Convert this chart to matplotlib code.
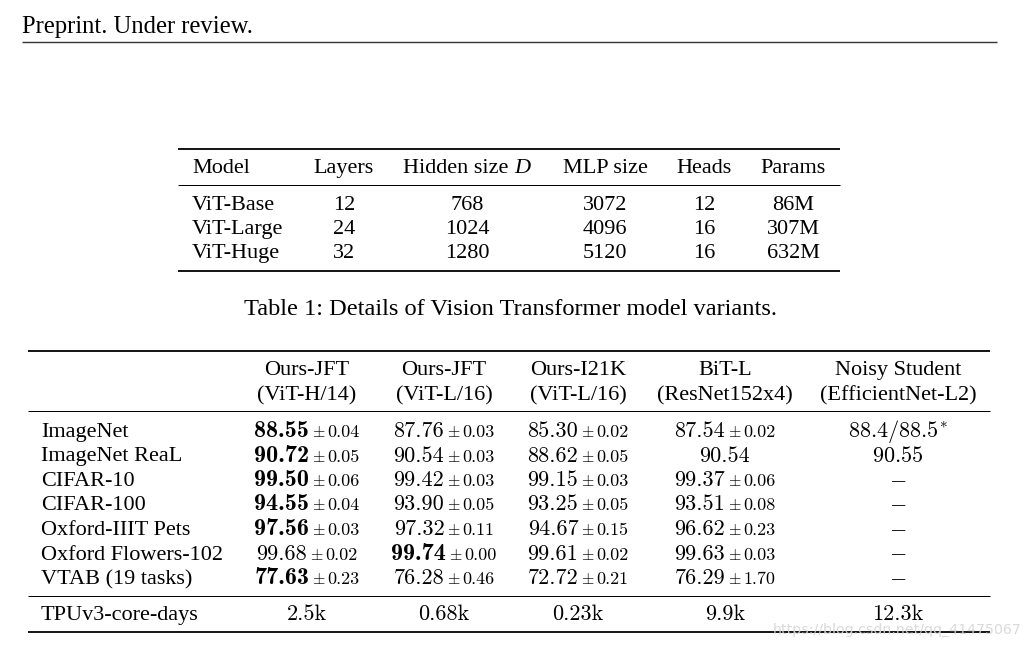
import matplotlib
matplotlib.use("Agg")
import matplotlib.pyplot as plt

# ---------------- data ----------------
header_text = "Preprint. Under review."

t1_columns = ["Model", "Layers", "Hidden size ", "MLP size", "Heads", "Params"]
t1_models = ["ViT-Base", "ViT-Large", "ViT-Huge"]
t1_layers = [12, 24, 32]
t1_hidden = [768, 1024, 1280]
t1_mlp = [3072, 4096, 5120]
t1_heads = [12, 16, 16]
t1_params = ["86M", "307M", "632M"]
t1_caption = "Table 1: Details of Vision Transformer model variants."

t2_methods = ["Ours-JFT", "Ours-JFT", "Ours-I21K", "BiT-L", "Noisy Student"]
t2_backbones = ["(ViT-H/14)", "(ViT-L/16)", "(ViT-L/16)", "(ResNet152x4)", "(EfficientNet-L2)"]
t2_datasets = ["ImageNet", "ImageNet ReaL", "CIFAR-10", "CIFAR-100",
               "Oxford-IIIT Pets", "Oxford Flowers-102", "VTAB (19 tasks)"]
jft_h_mean = [88.55, 90.72, 99.50, 94.55, 97.56, 99.68, 77.63]
jft_h_std = [0.04, 0.05, 0.06, 0.04, 0.03, 0.02, 0.23]
jft_l_mean = [87.76, 90.54, 99.42, 93.90, 97.32, 99.74, 76.28]
jft_l_std = [0.03, 0.03, 0.03, 0.05, 0.11, 0.00, 0.46]
i21k_mean = [85.30, 88.62, 99.15, 93.25, 94.67, 99.61, 72.72]
i21k_std = [0.02, 0.05, 0.03, 0.05, 0.15, 0.02, 0.21]
bit_mean = [87.54, 90.54, 99.37, 93.51, 96.62, 99.63, 76.29]
bit_std = [0.02, None, 0.06, 0.08, 0.23, 0.03, 1.70]
noisy_vals = [r"$88.4/88.5^{*}$", r"$90.55$", None, None, None, None, None]
bold_col = [0, 0, 0, 0, 0, 1, 0]   # index of the bold (best) column per row
tpu_label = "TPUv3-core-days"
tpu_days = ["2.5k", "0.68k", "0.23k", "9.9k", "12.3k"]
watermark = "https://blog.csdn.net/qq_41475067"

# ---------------- figure ----------------
plt.rcParams['mathtext.fontset'] = 'cm'
plt.rcParams['axes.unicode_minus'] = False

W, H = 1032, 646
fig = plt.figure(figsize=(W / 100, H / 100), dpi=100)
ax = fig.add_axes([0, 0, 1, 1])
ax.set_xlim(0, W)
ax.set_ylim(H, 0)
ax.axis('off')
renderer = fig.canvas.get_renderer()

SERIF = 'Liberation Serif'
TXT = 16
NUM = 16
BOLD = 17.4
SMALL = 13


def hline(x0, x1, y, px, color='black'):
    ax.plot([x0, x1], [y, y], color=color, lw=px * 0.72, solid_capstyle='butt')


def stext(x, y, s, ha='left', size=TXT, **kw):
    return ax.text(x, y, s, ha=ha, va='baseline', family=SERIF, size=size, **kw)


def value_cell(xc, y, mean, std, bold):
    parts = [ax.text(0, y, f"{mean:.2f}", family='cmb10' if bold else 'cmr10',
                     size=BOLD if bold else NUM, va='baseline', ha='left')]
    gaps = [0]
    if std is not None:
        parts.append(ax.text(0, y, r"$\pm$", size=SMALL - 1.5, va='baseline', ha='left'))
        gaps.append(2.5)
        parts.append(ax.text(0, y, f"{std:.2f}", family='cmr10', size=SMALL,
                             va='baseline', ha='left'))
        gaps.append(2.0)
    widths = [p.get_window_extent(renderer).width for p in parts]
    total = sum(widths) + sum(gaps)
    x = xc - total / 2
    for p, w, g in zip(parts, widths, gaps):
        x += g
        p.set_x(x)
        x += w


# header
stext(22, 33, header_text, size=17.7)
hline(22, 997, 42, 1.4, color='#333333')

# ---------------- Table 1 ----------------
t1_x_left = 192
t1_centers = [344, 467, 605, 704, 793]
hline(178, 840, 149, 1.8)
stext(t1_x_left, 173, t1_columns[0])
for i, name in enumerate(t1_columns[1:]):
    if i == 1:
        a = stext(0, 173, name)
        b = stext(0, 173, "D", style='italic')
        wa = a.get_window_extent(renderer).width
        wb = b.get_window_extent(renderer).width
        x0 = t1_centers[i] - (wa + wb) / 2
        a.set_x(x0)
        b.set_x(x0 + wa)
    else:
        stext(t1_centers[i], 173, name, ha='center')
hline(178, 840, 185, 1.0)
t1_base = [210, 234, 258]
for r in range(3):
    y = t1_base[r]
    stext(t1_x_left, y, t1_models[r])
    vals = [t1_layers[r], t1_hidden[r], t1_mlp[r], t1_heads[r], t1_params[r]]
    for c, v in enumerate(vals):
        stext(t1_centers[c], y, str(v), ha='center')
hline(178, 840, 271, 1.8)
stext(510, 315, t1_caption, ha='center', size=17.6)

# ---------------- Table 2 ----------------
x0, x1 = 28, 990
lab_x = 41
cols = [307, 444, 578, 725, 898]
hline(x0, x1, 351, 1.8)
for c in range(5):
    stext(cols[c], 375, t2_methods[c], ha='center')
    stext(cols[c], 400, t2_backbones[c], ha='center')
hline(x0, x1, 411, 1.0)

row_base = [437, 461.5, 486, 510.5, 535, 559.5, 584]
means = [jft_h_mean, jft_l_mean, i21k_mean, bit_mean]
stds = [jft_h_std, jft_l_std, i21k_std, bit_std]
for r, y in enumerate(row_base):
    stext(lab_x, y, t2_datasets[r])
    for c in range(4):
        value_cell(cols[c], y, means[c][r], stds[c][r], bold_col[r] == c)
    nv = noisy_vals[r]
    if nv is None:
        ax.text(cols[4], y - 1, r"$-$", ha='center', va='baseline', size=NUM)
    else:
        ax.text(cols[4], y, nv, ha='center', va='baseline', size=NUM)
hline(x0, x1, 596, 1.0)
stext(lab_x, 620, tpu_label)
for c in range(5):
    ax.text(cols[c], 620, tpu_days[c], family='cmr10', size=NUM,
            ha='center', va='baseline')
hline(x0, x1, 632, 1.8)

ax.text(1022, 634, watermark, ha='right', va='baseline', family='DejaVu Sans',
        size=10.2, color='#d6d6d6', alpha=0.9)

fig.savefig("out.png", dpi=100)
